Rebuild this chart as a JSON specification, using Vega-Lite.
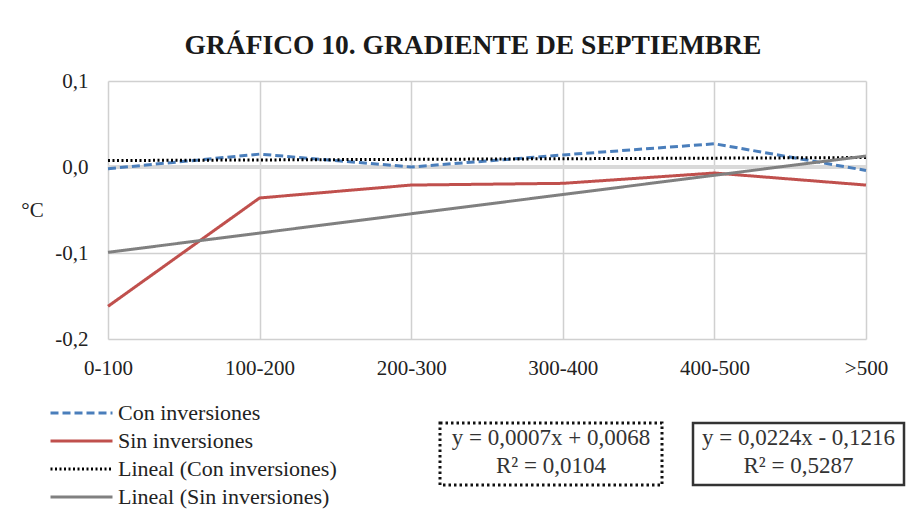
{
  "$schema": "https://vega.github.io/schema/vega-lite/v6.json",
  "padding": {"left": 20, "top": 31, "right": 2, "bottom": 2},
  "bounds": "flush",
  "spacing": 84,
  "background": "white",
  "config": {
    "font": "Liberation Serif",
    "view": {"stroke": null}
  },
  "datasets": {
    "series": [
      {"rango": "0-100", "serie": "Con inversiones", "valor": -0.002},
      {"rango": "100-200", "serie": "Con inversiones", "valor": 0.015},
      {"rango": "200-300", "serie": "Con inversiones", "valor": 0.0},
      {"rango": "300-400", "serie": "Con inversiones", "valor": 0.014},
      {"rango": "400-500", "serie": "Con inversiones", "valor": 0.027},
      {"rango": ">500", "serie": "Con inversiones", "valor": -0.004},
      {"rango": "0-100", "serie": "Sin inversiones", "valor": -0.162},
      {"rango": "100-200", "serie": "Sin inversiones", "valor": -0.036},
      {"rango": "200-300", "serie": "Sin inversiones", "valor": -0.021},
      {"rango": "300-400", "serie": "Sin inversiones", "valor": -0.019},
      {"rango": "400-500", "serie": "Sin inversiones", "valor": -0.007},
      {"rango": ">500", "serie": "Sin inversiones", "valor": -0.021},
      {"rango": "0-100", "serie": "Lineal (Con inversiones)", "valor": 0.0075},
      {"rango": "100-200", "serie": "Lineal (Con inversiones)", "valor": 0.0082},
      {"rango": "200-300", "serie": "Lineal (Con inversiones)", "valor": 0.0089},
      {"rango": "300-400", "serie": "Lineal (Con inversiones)", "valor": 0.0096},
      {"rango": "400-500", "serie": "Lineal (Con inversiones)", "valor": 0.0103},
      {"rango": ">500", "serie": "Lineal (Con inversiones)", "valor": 0.011},
      {"rango": "0-100", "serie": "Lineal (Sin inversiones)", "valor": -0.0992},
      {"rango": "100-200", "serie": "Lineal (Sin inversiones)", "valor": -0.0768},
      {"rango": "200-300", "serie": "Lineal (Sin inversiones)", "valor": -0.0544},
      {"rango": "300-400", "serie": "Lineal (Sin inversiones)", "valor": -0.032},
      {"rango": "400-500", "serie": "Lineal (Sin inversiones)", "valor": -0.0096},
      {"rango": ">500", "serie": "Lineal (Sin inversiones)", "valor": 0.0128}
    ]
  },
  "vconcat": [
    {
      "width": 758,
      "height": 258,
      "title": {
        "text": "GRÁFICO 10. GRADIENTE DE SEPTIEMBRE",
        "font": "Liberation Serif",
        "fontSize": 27.5,
        "fontWeight": "bold",
        "color": "#1a1a1a",
        "anchor": "middle",
        "dx": -14,
        "baseline": "alphabetic",
        "offset": -11
      },
      "data": {"name": "series"},
      "layer": [
        {
          "mark": {"type": "rule", "color": "#d9d9d9", "strokeWidth": 4},
          "encoding": {"y": {"datum": 0, "type": "quantitative"}}
        },
        {
          "mark": {"type": "line", "strokeCap": "butt"},
          "encoding": {
            "x": {
              "field": "rango",
              "type": "ordinal",
              "sort": ["0-100", "100-200", "200-300", "300-400", "400-500", ">500"],
              "scale": {"type": "point", "padding": 0},
              "axis": {
                "title": null,
                "labelFont": "Liberation Serif",
                "labelFontSize": 21,
                "labelColor": "#222222",
                "labelPadding": 18,
                "labelAngle": 0,
                "domain": false,
                "ticks": false,
                "grid": true,
                "gridColor": "#d0d0d0",
                "gridWidth": 1.5
              }
            },
            "y": {
              "field": "valor",
              "type": "quantitative",
              "scale": {"domain": [-0.2, 0.1], "nice": false, "zero": false},
              "axis": {
                "values": [-0.2, -0.1, 0, 0.1],
                "labelExpr": "replace(replace(format(datum.value, '.1f'), '.', ','), '\u2212', '-')",
                "labelFont": "Liberation Serif",
                "labelFontSize": 21,
                "labelColor": "#222222",
                "labelPadding": 20,
                "domain": false,
                "ticks": false,
                "grid": true,
                "gridColor": "#d0d0d0",
                "gridWidth": 1.5,
                "title": "°C",
                "titleFont": "Liberation Serif",
                "titleFontSize": 21,
                "titleFontWeight": "normal",
                "titleColor": "#222222",
                "titleAngle": 0,
                "titleAlign": "center",
                "titleBaseline": "middle",
                "titleX": -76,
                "titleY": 129
              }
            },
            "color": {
              "field": "serie",
              "type": "nominal",
              "scale": {
                "domain": ["Con inversiones", "Sin inversiones", "Lineal (Con inversiones)", "Lineal (Sin inversiones)"],
                "range": ["#4a7ebb", "#c0504d", "#000000", "#808080"]
              },
              "legend": {
                "title": null,
                "orient": "none",
                "legendX": -59,
                "legendY": 318,
                "direction": "vertical",
                "symbolType": "stroke",
                "symbolSize": 3844,
                "symbolStrokeWidth": 3,
                "clipHeight": 28,
                "labelFont": "Liberation Serif",
                "labelFontSize": 22,
                "labelColor": "#222222",
                "labelOffset": 4,
                "labelLimit": 400,
                "rowPadding": 0
              }
            },
            "strokeDash": {
              "field": "serie",
              "type": "nominal",
              "scale": {
                "domain": ["Con inversiones", "Sin inversiones", "Lineal (Con inversiones)", "Lineal (Sin inversiones)"],
                "range": [[8, 4], [1, 0], [2, 2.5], [1, 0]]
              }
            },
            "strokeWidth": {
              "field": "serie",
              "type": "nominal",
              "scale": {
                "domain": ["Con inversiones", "Sin inversiones", "Lineal (Con inversiones)", "Lineal (Sin inversiones)"],
                "range": [3, 3, 1.8, 1.5]
              },
              "legend": null
            }
          }
        }
      ]
    },
    {
      "hconcat": [
        {
          "width": 301,
          "height": 62,
          "data": {"values": []},
          "mark": "text",
          "encoding": {}
        },
        {
          "width": 222,
          "height": 62,
          "view": {"stroke": "#111111", "strokeWidth": 3, "strokeDash": [2.5, 3]},
          "data": {"values": [{"eq": "y = 0,0007x + 0,0068\nR² = 0,0104"}]},
          "mark": {"type": "text", "lineBreak": "\n", "font": "Liberation Serif", "fontSize": 23, "color": "#333333", "baseline": "middle", "align": "center", "lineHeight": 28, "dy": -16},
          "encoding": {"text": {"field": "eq"}}
        },
        {
          "width": 211,
          "height": 62,
          "view": {"stroke": "#333333", "strokeWidth": 2.5},
          "data": {"values": [{"eq": "y = 0,0224x - 0,1216\nR² = 0,5287"}]},
          "mark": {"type": "text", "lineBreak": "\n", "font": "Liberation Serif", "fontSize": 23, "color": "#333333", "baseline": "middle", "align": "center", "lineHeight": 28, "dy": -16},
          "encoding": {"text": {"field": "eq"}}
        }
      ],
      "spacing": 31,
      "bounds": "flush"
    }
  ]
}
